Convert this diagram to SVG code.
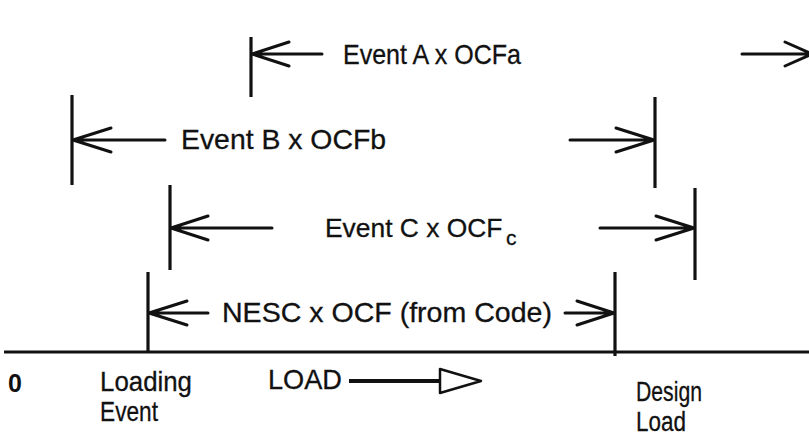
<svg xmlns="http://www.w3.org/2000/svg" width="809" height="443" viewBox="0 0 809 443">
<style>
.ln{stroke:#111;stroke-width:3;fill:none;stroke-linecap:round;stroke-linejoin:round}
.tk{stroke:#111;stroke-width:3.2;fill:none}
.t{font-family:"Liberation Sans",Arial,sans-serif;font-size:28px;fill:#111;stroke:#111;stroke-width:0.3}
.tc{font-family:"Liberation Sans",Arial,sans-serif;font-size:26.4px;fill:#111;stroke:#111;stroke-width:0.3}
.s{font-family:"Liberation Sans",Arial,sans-serif;font-size:21px;fill:#111;stroke:#111;stroke-width:0.3}
.b{font-family:"Liberation Sans",Arial,sans-serif;font-size:25px;font-weight:bold;fill:#111}
</style>
<rect width="809" height="443" fill="#fff"/>
<g id="connectors">
  <line class="tk" x1="251" y1="37" x2="251" y2="97"/>
  <path class="ln" d="M252 54 H322 M289 42 L252 54 L289 66"/>
  <path class="ln" d="M742 54 H812 M785 42 L812 54 L785 66"/>
  <line class="tk" x1="72" y1="95" x2="72" y2="185"/>
  <path class="ln" d="M73 140 H165 M111 128 L73 140 L111 152"/>
  <path class="ln" d="M570 140 H654 M616 128 L654 140 L616 152"/>
  <line class="tk" x1="655" y1="97" x2="655" y2="188"/>
  <line class="tk" x1="170" y1="185" x2="170" y2="270"/>
  <path class="ln" d="M171 228 H272 M208 216 L171 228 L208 240"/>
  <path class="ln" d="M600 228 H694 M656 216 L694 228 L656 240"/>
  <line class="tk" x1="695" y1="188" x2="695" y2="280"/>
  <line class="tk" x1="148" y1="272" x2="148" y2="353"/>
  <path class="ln" d="M149 313 H208 M187 301 L149 313 L187 325"/>
  <path class="ln" d="M565 313 H614 M577 301 L614 313 L577 325"/>
  <line class="tk" x1="615" y1="272" x2="615" y2="356"/>
  <line x1="4" y1="352" x2="809" y2="352" stroke="#111" stroke-width="3.2"/>
  <line x1="349" y1="381" x2="440" y2="381" stroke="#111" stroke-width="4"/>
  <path d="M440 369 L481 381 L440 393 Z" fill="#fff" stroke="#111" stroke-width="2.5" stroke-linejoin="round"/>
</g>
<g id="label-a"><text class="t" x="343" y="64" textLength="178" lengthAdjust="spacingAndGlyphs">Event A x OCFa</text></g>
<g id="label-b"><text class="t" x="181" y="149" textLength="205" lengthAdjust="spacingAndGlyphs">Event B x OCFb</text></g>
<g id="label-c"><text class="tc" x="325" y="237">Event C x OCF</text><text class="s" x="506" y="245">c</text></g>
<g id="label-nesc"><text class="t" x="222" y="322" textLength="330" lengthAdjust="spacingAndGlyphs">NESC x OCF (from Code)</text></g>
<g id="zero"><text class="b" x="8" y="392">0</text></g>
<g id="loading-event"><text class="t" x="100" y="391" textLength="92" lengthAdjust="spacingAndGlyphs">Loading</text><text class="t" x="100" y="421" textLength="58" lengthAdjust="spacingAndGlyphs">Event</text></g>
<g id="load"><text class="t" x="268" y="389" textLength="74" lengthAdjust="spacingAndGlyphs">LOAD</text></g>
<g id="design-load"><text class="t" x="636" y="401" textLength="66" lengthAdjust="spacingAndGlyphs">Design</text><text class="t" x="636" y="431" textLength="50" lengthAdjust="spacingAndGlyphs">Load</text></g>
</svg>
